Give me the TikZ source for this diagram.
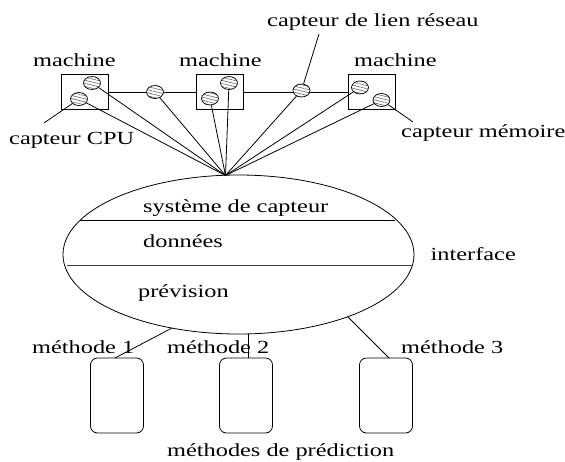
\documentclass[tikz,border=0pt]{standalone}
\usepackage{fontspec}
\setmainfont{Liberation Serif}
\usetikzlibrary{shapes.geometric,patterns.meta}
\newcommand{\stx}[1]{\scalebox{1.315}[1]{#1}}
\tikzset{
  lab/.style={inner sep=0pt,anchor=base west,font=\fontsize{18.5}{20}\selectfont},
  mach/.style={draw,line width=.8pt,minimum width=47pt,minimum height=35pt,inner sep=0pt},
  sens/.style={draw,ellipse,line width=.7pt,minimum width=17pt,minimum height=13pt,inner sep=0pt,
    pattern={Lines[angle=-14,distance=3pt,line width=.7pt]},pattern color=black!55},
  meth/.style={draw,rounded corners=7pt,line width=.8pt,minimum width=53pt,minimum height=75pt,inner sep=0pt},
  conn/.style={line width=.8pt}
}
\begin{document}
\begin{tikzpicture}[x=1pt,y=-1pt]
\useasboundingbox (0,0) rectangle (565,461);
% machines
\node[mach] (m1) at (85,92) {};
\node[mach] (m2) at (219.5,92) {};
\node[mach] (m3) at (371.5,92) {};
% sensors
\node[sens] (s1a) at (92,83) {};
\node[sens] (s1b) at (79,99) {};
\node[sens] (s2a) at (229,83) {};
\node[sens] (s2b) at (210,98.5) {};
\node[sens] (s3a) at (360,87.5) {};
\node[sens] (s3b) at (381.5,100) {};
\node[sens] (l1) at (155,92) {};
\node[sens] (l2) at (301.5,90.5) {};
% interface ellipse
\node[draw,ellipse,line width=.8pt,minimum width=351pt,minimum height=159pt,inner sep=0pt] (iface) at (238.5,254.5) {};
\coordinate (hub) at (225.5,175.5);
\coordinate (a1) at (80,220.5);
\coordinate (a2) at (395,220.5);
\coordinate (b1) at (67,265);
\coordinate (b2) at (413,265);
\draw[conn] (a1) -- (a2);
\draw[conn,black!75] (b1) -- (b2);
% links
\draw[conn] (m1) -- (l1);
\draw[conn] (l1) -- (m2);
\draw[conn] (m2.east) -- (l2.west |- m2.east);
\draw[conn] (l2.east |- m3.west) -- (m3.west);
\foreach \s in {s1a,s1b,l1,s2b,s2a,l2,s3a,s3b}{\draw[conn] (hub) -- (\s);}
% leaders
\coordinate (c1) at (44,123);
\coordinate (c2) at (319,34);
\coordinate (c3) at (413,122);
\draw[conn] (s1b) -- (c1);
\draw[conn] (l2) -- (c2);
\draw[conn] (s3b) -- (c3);
% methods
\node[meth] (d1) at (117,395.5) {};
\node[meth] (d2) at (246,395.5) {};
\node[meth] (d3) at (386,395.5) {};
\coordinate (e1) at (172,328);
\coordinate (e2) at (248.5,334);
\coordinate (e3) at (348,317);
\coordinate (f1) at (115,358);
\coordinate (f2) at (248.5,358);
\coordinate (f3) at (389,358);
\draw[conn] (e1) -- (f1);
\draw[conn] (e2) -- (f2);
\draw[conn] (e3) -- (f3);
% labels
\node[lab] (t1) at (33,66) {\stx{machine}};
\node[lab] (t2) at (179,66) {\stx{machine}};
\node[lab] (t3) at (354,66) {\stx{machine}};
\node[lab] (t4) at (9,144) {\stx{capteur CPU}};
\node[lab] (t5) at (267,26) {\stx{capteur de lien réseau}};
\node[lab] (t6) at (401,137) {\stx{capteur mémoire}};
\node[lab] (t7) at (143,212) {\stx{système de capteur}};
\node[lab] (t8) at (143,247) {\stx{données}};
\node[lab] (t9) at (138,297) {\stx{prévision}};
\node[lab] (t10) at (430.5,260.5) {\stx{interface}};
\node[lab] (t11) at (32,353) {\stx{méthode 1}};
\node[lab] (t12) at (167,353) {\stx{méthode 2}};
\node[lab] (t13) at (401,353) {\stx{méthode 3}};
\node[lab] (t14) at (167,456.5) {\stx{méthodes de prédiction}};
\end{tikzpicture}
\end{document}
